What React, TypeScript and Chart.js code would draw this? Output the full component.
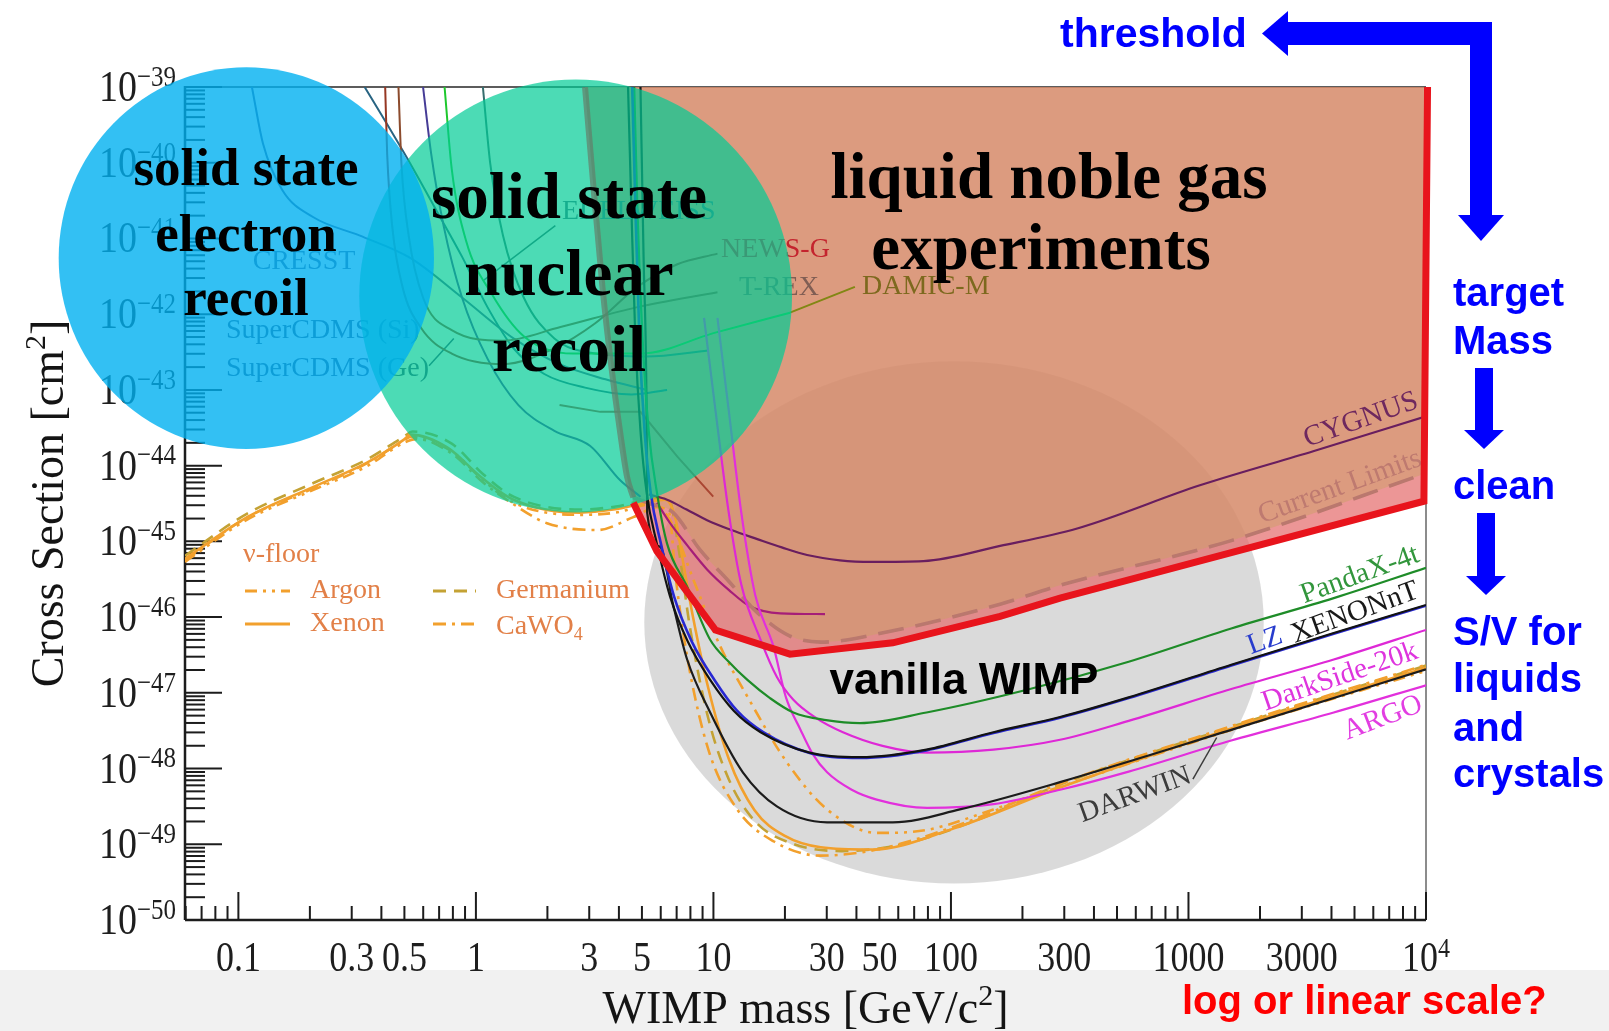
import { useEffect, useRef } from "react";
import { Chart, registerables } from "chart.js";

Chart.register(...registerables);

// Every curve point is [WIMP mass in GeV/c², log10 of the cross-section in cm²]
type Pt = [number, number];

const MASS_MIN = 0.0596;
const MASS_MAX = 1e4;
const LOG_SIGMA_MIN = -50;
const LOG_SIGMA_MAX = -39;

const massTickValues = [0.1, 0.3, 0.5, 1, 3, 5, 10, 30, 50, 100, 300, 1000, 3000, 10000];
const massTickLabels = ["0.1", "0.3", "0.5", "1", "3", "5", "10", "30", "50", "100", "300", "1000", "3000", "10^4"];
const sigmaDecades = [-50, -49, -48, -47, -46, -45, -44, -43, -42, -41, -40, -39];

// Excluded region boundary and the liquid-noble reach
const currentLimits: Pt[] = [[2.88, -39.0], [3.12, -40.29], [3.41, -41.64], [3.73, -42.73], [4.04, -43.54], [4.33, -44.15], [4.6, -44.42], [5.5, -44.51], [6.77, -44.62], [8.77, -45.11], [11.4, -45.5], [15.3, -45.94], [21.0, -46.25], [28.3, -46.33], [56.9, -46.18], [161, -45.83], [288, -45.58], [1514, -44.99], [10000, -44.1]];
const liquidNobleReach: Pt[] = [[4.6, -44.49], [5.78, -45.13], [10.2, -46.17], [21.0, -46.49], [56.9, -46.34], [161, -45.99], [288, -45.75], [1514, -45.15], [9800, -44.47], [10150, -39.0]];

// Low-mass experiments
const cresst: Pt[] = [[0.114, -39.0], [0.127, -39.75], [0.153, -40.36], [0.207, -40.72], [0.323, -40.96], [0.531, -41.26], [0.874, -41.78], [1.44, -42.32], [2.25, -42.66], [3.51, -42.86], [5.23, -43.0]];
const superCdmsSi: Pt[] = [[0.34, -39.0], [0.415, -39.45], [0.531, -40.02], [0.682, -40.63], [0.874, -41.24], [1.12, -41.91], [1.44, -42.45], [1.94, -42.79], [2.88, -42.97], [4.51, -43.06], [6.38, -43.0]];
const superCdmsGe: Pt[] = [[0.599, -39.0], [0.648, -39.88], [0.731, -40.83], [0.874, -41.78], [1.12, -42.59], [1.51, -43.2], [2.14, -43.54], [3.03, -43.74], [4.04, -44.19], [4.93, -44.41]];
const superCdmsGeTag: Pt[] = [[0.635, -42.68], [0.807, -42.32]];
const edelweiss: Pt[] = [[1.07, -39.0], [1.15, -40.02], [1.3, -40.96], [1.59, -41.78], [2.14, -42.32], [3.18, -42.52], [5.23, -42.56], [9.5, -42.48]];
const edelweissTag: Pt[] = [[1.08, -41.55], [2.16, -40.83]];
const newsG: Pt[] = [[0.415, -39.0], [0.423, -39.88], [0.444, -40.83], [0.491, -41.64], [0.587, -42.18], [0.791, -42.52], [1.3, -42.66], [2.14, -42.45], [3.18, -42.12], [4.78, -41.64], [7.05, -41.34], [10.4, -41.2]];
const tRex: Pt[] = [[0.472, -39.0], [0.486, -40.02], [0.521, -40.96], [0.599, -41.78], [0.791, -42.21], [1.3, -42.35], [2.27, -42.17], [4.74, -41.91], [10.4, -41.71]];
const damicM: Pt[] = [[0.738, -39.0], [0.791, -40.08], [0.909, -41.03], [1.17, -41.74], [1.59, -42.29], [2.56, -42.52], [4.98, -42.52], [10.0, -42.25], [21.0, -41.98]];
const damicMTag: Pt[] = [[21.0, -41.98], [39.4, -41.64]];
const lowMassKinked: Pt[] = [[2.25, -43.2], [3.34, -43.29], [4.93, -43.29], [7.05, -43.88], [9.98, -44.41]];

// Noble-liquid and gas experiments
const xenonnt: Pt[] = [[4.37, -39.0], [4.51, -40.56], [4.69, -42.32], [4.93, -43.54], [5.23, -44.35], [5.78, -45.03], [6.57, -45.73], [7.79, -46.32], [9.69, -46.83], [12.2, -47.24], [15.8, -47.52], [25.4, -47.79], [41.4, -47.85], [78.9, -47.75], [151, -47.52], [288, -47.32], [560, -47.06], [1514, -46.63], [4089, -46.21], [10000, -45.84]];
const lz: Pt[] = [[4.55, -39.0], [4.69, -40.56], [4.88, -42.32], [5.13, -43.54], [5.44, -44.35], [6.01, -45.03], [6.83, -45.73], [8.1, -46.32], [10.1, -46.83], [12.6, -47.24], [16.2, -47.52], [25.8, -47.8], [41.4, -47.86], [78.9, -47.76], [151, -47.53], [288, -47.33], [560, -47.07], [1514, -46.64], [4089, -46.22], [10000, -45.85]];
const pandax4t: Pt[] = [[4.64, -39.0], [4.78, -40.56], [5.03, -42.32], [5.34, -43.54], [5.78, -44.35], [6.38, -45.03], [7.75, -45.6], [9.69, -46.3], [11.6, -46.59], [13.9, -46.83], [17.3, -47.07], [21.7, -47.26], [29.8, -47.36], [41.4, -47.4], [78.9, -47.26], [209, -46.96], [560, -46.59], [1514, -46.15], [4089, -45.75], [10000, -45.35]];
const darwin: Pt[] = [[4.93, -39.0], [5.08, -41.24], [5.23, -43.27], [5.26, -44.62], [5.95, -45.07], [6.77, -45.84], [7.75, -46.56], [9.69, -47.26], [13.3, -48.05], [18.5, -48.5], [30.1, -48.71], [56.9, -48.71], [109, -48.54], [288, -48.18], [1514, -47.49], [10000, -46.69]];
const darwinTag: Pt[] = [[1044, -48.14], [1315, -47.59]];
const darkside20k: Pt[] = [[9.13, -42.05], [10.2, -43.27], [11.6, -44.62], [13.1, -45.57], [15.8, -46.3], [18.5, -46.79], [21.7, -47.09], [27.0, -47.33], [35.1, -47.52], [51.5, -47.7], [79.3, -47.79], [151, -47.75], [288, -47.62], [560, -47.37], [1514, -46.95], [4089, -46.56], [10000, -46.17]];
const argo: Pt[] = [[10.4, -42.05], [11.6, -43.27], [13.1, -44.62], [15.0, -45.71], [17.9, -46.39], [20.2, -47.06], [23.2, -47.48], [26.2, -47.81], [30.1, -48.05], [38.2, -48.28], [48.7, -48.41], [79.3, -48.52], [151, -48.47], [288, -48.28], [560, -48.04], [1514, -47.63], [4089, -47.26], [10000, -46.9]];
const cygnus: Pt[] = [[5.34, -44.38], [6.38, -44.45], [7.71, -44.58], [9.4, -44.72], [11.9, -44.85], [15.3, -44.97], [19.4, -45.08], [24.8, -45.18], [34.1, -45.25], [46.6, -45.27], [76.6, -45.26], [161, -45.06], [340, -44.83], [1117, -44.26], [3351, -43.81], [10000, -43.35]];
const gasShortLimit: Pt[] = [[5.78, -44.49], [6.57, -44.76], [7.79, -45.06], [9.4, -45.37], [11.6, -45.64], [14.3, -45.86], [19.1, -45.95], [29.5, -45.96]];

// Neutrino floor for several targets
const nuArgon: Pt[] = [[0.0596, -45.27], [0.108, -44.72], [0.207, -44.32], [0.347, -44.01], [0.496, -43.7], [0.559, -43.65], [0.791, -43.81], [1.07, -44.19], [1.44, -44.49], [2.74, -44.65], [3.88, -44.62], [5.5, -44.51], [6.57, -44.72], [8.22, -45.5], [10.7, -46.39], [13.9, -47.05], [20.4, -47.92], [30.1, -48.54], [48.9, -48.85], [79.3, -48.81], [151, -48.54], [288, -48.24], [1514, -47.49], [10000, -46.71]];
const nuXenon: Pt[] = [[0.0596, -45.23], [0.109, -44.68], [0.207, -44.28], [0.348, -43.96], [0.496, -43.66], [0.531, -43.59], [0.757, -43.76], [1.05, -44.15], [1.44, -44.45], [2.74, -44.62], [3.79, -44.58], [5.23, -44.49], [6.26, -44.45], [6.91, -44.69], [7.41, -45.23], [8.18, -45.98], [9.5, -46.93], [11.6, -47.87], [14.9, -48.55], [20.0, -48.89], [28.3, -49.04], [46.6, -49.07], [103, -48.79], [288, -48.25], [1514, -47.47], [10000, -46.67]];
const nuGermanium: Pt[] = [[0.0596, -45.19], [0.108, -44.64], [0.207, -44.23], [0.347, -43.92], [0.496, -43.62], [0.542, -43.55], [0.791, -43.71], [1.07, -44.11], [1.44, -44.41], [2.74, -44.58], [3.88, -44.54], [5.78, -44.43], [6.51, -44.46], [7.19, -45.16], [7.94, -46.11], [9.5, -47.33], [11.6, -48.14], [14.9, -48.69], [21.0, -48.98], [34.6, -49.09], [62.8, -49.0], [126, -48.69], [288, -48.21], [1514, -47.45], [10000, -46.64]];
const nuCaWO4: Pt[] = [[0.0596, -45.25], [0.108, -44.69], [0.207, -44.3], [0.347, -43.97], [0.496, -43.67], [0.531, -43.62], [0.791, -43.84], [1.07, -44.22], [1.44, -44.51], [1.99, -44.76], [3.25, -44.85], [4.6, -44.68], [5.78, -44.55], [6.51, -44.62], [6.91, -45.43], [7.75, -46.52], [9.5, -47.74], [12.6, -48.54], [17.9, -48.96], [28.1, -49.15], [48.7, -49.07], [109, -48.74], [288, -48.2], [1514, -47.44], [10000, -46.63]];

// Technology zones: [centre mass, centre log10 σ, half-width (mass decades), half-height (σ decades)]
const electronRecoilZone = [0.108, -41.26, 0.79, 2.52];
const nuclearRecoilZone = [2.63, -41.76, 0.911, 2.858];
const vanillaWimpZone = [103, -46.07, 1.304, 3.448];

const SERIF = '"Liberation Serif", "Times New Roman", serif';
const SANS = '"Liberation Sans", Arial, sans-serif';
const BLUE = "#0000ff";
const NU_ORANGE = "rgb(242,160,45)";
const NU_OLIVE = "rgb(196,162,52)";
const NU_TEXT = "rgb(226,128,72)";

const toXY = (pts: Pt[]) => pts.map(([m, e]) => ({ x: m, y: Math.pow(10, e) }));

function font(size: number, family: string, weight = "") {
  return [weight, `${size}px`, family].filter(Boolean).join(" ");
}

// segments: [text, 0 normal | 1 superscript | -1 subscript]
function richText(ctx: CanvasRenderingContext2D, segs: [string, number][], x: number, y: number, size: number, family: string, align: string, sy = 1, weight = "") {
  const small = Math.round(size * 0.66);
  let total = 0;
  const widths = segs.map(([t, k]) => {
    ctx.font = font(k === 0 ? size : small, family, weight);
    const w = ctx.measureText(t).width;
    total += w;
    return w;
  });
  let cur = align === "center" ? x - total / 2 : align === "right" ? x - total : x;
  segs.forEach(([t, k], i) => {
    ctx.font = font(k === 0 ? size : small, family, weight);
    const dy = k === 1 ? -size * 0.4 : k === -1 ? size * 0.2 : 0;
    ctx.save();
    ctx.translate(cur, y + dy);
    ctx.scale(1, sy);
    ctx.textAlign = "left";
    ctx.fillText(t, 0, 0);
    ctx.restore();
    cur += widths[i];
  });
}

function drawZone(chart: any, z: number[], color: string) {
  const [m, s, dm, ds] = z;
  const xs = chart.scales.x;
  const ys = chart.scales.y;
  const cx = xs.getPixelForValue(m);
  const cy = ys.getPixelForValue(Math.pow(10, s));
  const rx = xs.getPixelForValue(Math.pow(10, Math.log10(m) + dm)) - cx;
  const ry = cy - ys.getPixelForValue(Math.pow(10, s + ds));
  const ctx = chart.ctx;
  ctx.save();
  ctx.beginPath();
  ctx.ellipse(cx, cy, rx, ry, 0, 0, Math.PI * 2);
  ctx.fillStyle = color;
  ctx.fill();
  ctx.restore();
}

function seg(ctx: CanvasRenderingContext2D, x1: number, y1: number, x2: number, y2: number) {
  ctx.beginPath();
  ctx.moveTo(x1, y1);
  ctx.lineTo(x2, y2);
  ctx.stroke();
}

const flatLabels = [
  { t: "CRESST", x: 304, y: 262, c: "rgb(75,95,140)", align: "center" },
  { t: "SuperCDMS (Si)", x: 226, y: 331, c: "rgb(60,80,118)", align: "left" },
  { t: "SuperCDMS (Ge)", x: 226, y: 369, c: "rgb(60,80,118)", align: "left" },
  { t: "EDELWEISS", x: 562, y: 212, c: "rgb(70,105,125)", align: "left" },
  { t: "NEWS-G", x: 721, y: 250, c: "rgb(196,36,46)", align: "left" },
  { t: "T-REX", x: 739, y: 288, c: "rgb(128,94,84)", align: "left" },
  { t: "DAMIC-M", x: 862, y: 287, c: "rgb(125,105,30)", align: "left" },
];

const slantLabels = [
  { t: "CYGNUS", x: 1361, y: 420, a: -19.5, c: "rgb(110,40,95)" },
  { t: "Current Limits", x: 1340, y: 487, a: -20, c: "rgb(190,122,112)" },
  { t: "PandaX-4t", x: 1360, y: 575, a: -20, c: "rgb(50,150,60)" },
  { t: "LZ", x: 1265, y: 641, a: -20, c: "rgb(40,60,205)" },
  { t: "XENONnT", x: 1355, y: 613, a: -20, c: "rgb(25,25,25)" },
  { t: "DarkSide-20k", x: 1340, y: 677, a: -19, c: "rgb(222,52,222)" },
  { t: "ARGO", x: 1383, y: 718, a: -21, c: "rgb(226,62,226)" },
  { t: "DARWIN", x: 1135, y: 795, a: -20, c: "rgb(60,60,60)" },
];

function drawExperimentLabels(ctx: CanvasRenderingContext2D) {
  ctx.save();
  ctx.textBaseline = "middle";
  ctx.font = font(28, SERIF);
  for (const l of flatLabels) {
    ctx.fillStyle = l.c;
    ctx.textAlign = l.align as CanvasTextAlign;
    ctx.fillText(l.t, l.x, l.y);
  }
  ctx.font = font(29, SERIF);
  ctx.textAlign = "center";
  for (const l of slantLabels) {
    ctx.save();
    ctx.translate(l.x, l.y);
    ctx.rotate((l.a * Math.PI) / 180);
    ctx.fillStyle = l.c;
    ctx.fillText(l.t, 0, 0);
    ctx.restore();
  }
  ctx.restore();
}

function drawNuLegend(ctx: CanvasRenderingContext2D) {
  ctx.save();
  ctx.fillStyle = NU_TEXT;
  ctx.textBaseline = "middle";
  ctx.textAlign = "left";
  ctx.font = font(28, SERIF);
  ctx.fillText("\u03bd-floor", 243, 555);
  ctx.fillText("Argon", 310, 591);
  ctx.fillText("Xenon", 310, 624);
  ctx.fillText("Germanium", 496, 591);
  ctx.textBaseline = "alphabetic";
  richText(ctx, [["CaWO", 0], ["4", -1]], 496, 634, 28, SERIF, "left");
  ctx.lineWidth = 3;
  const sample = (x1: number, x2: number, y: number, color: string, dash: number[]) => {
    ctx.strokeStyle = color;
    ctx.setLineDash(dash);
    seg(ctx, x1, y, x2, y);
  };
  sample(245, 290, 591, NU_ORANGE, [12, 6, 3, 6, 3, 6]);
  sample(245, 290, 624, NU_ORANGE, []);
  sample(433, 476, 591, NU_OLIVE, [13, 8]);
  sample(433, 476, 624, NU_ORANGE, [13, 6, 3, 6]);
  ctx.restore();
}

function drawArrowDown(ctx: CanvasRenderingContext2D, cx: number, y1: number, y2: number, bar: number, half: number, tip: number) {
  ctx.fillRect(cx - bar / 2, y1, bar, y2 - y1);
  ctx.beginPath();
  ctx.moveTo(cx - half, y2);
  ctx.lineTo(cx + half, y2);
  ctx.lineTo(cx, y2 + tip);
  ctx.closePath();
  ctx.fill();
}

const chartDecor = {
  id: "chartDecor",
  beforeDraw(chart: any) {
    const { ctx, width, height } = chart;
    ctx.save();
    ctx.fillStyle = "#f1f1f1";
    ctx.fillRect(0, 970, width, height - 970);
    ctx.restore();
  },
  beforeDatasetsDraw(chart: any) {
    const { ctx, chartArea: a } = chart;
    const xs = chart.scales.x;
    const ys = chart.scales.y;
    drawZone(chart, vanillaWimpZone, "rgba(0,0,0,0.145)");

    ctx.save();
    ctx.lineCap = "butt";
    ctx.strokeStyle = "#5c5c5c";
    ctx.lineWidth = 2;
    seg(ctx, a.left, a.top, a.right, a.top);
    ctx.strokeStyle = "#8c8c8c";
    seg(ctx, a.right, a.top, a.right, a.bottom);
    ctx.strokeStyle = "#1c1c1c";
    ctx.lineWidth = 2.5;
    seg(ctx, a.left, a.top - 1, a.left, a.bottom);
    seg(ctx, a.left, a.bottom, a.right, a.bottom);

    // inward ticks
    ctx.lineWidth = 2;
    for (const e of sigmaDecades) {
      const y = ys.getPixelForValue(Math.pow(10, e));
      seg(ctx, a.left, y, a.left + 37, y);
      if (e < LOG_SIGMA_MAX) {
        for (let k = 2; k <= 9; k++) {
          const yk = ys.getPixelForValue(k * Math.pow(10, e));
          seg(ctx, a.left, yk, a.left + 20, yk);
        }
      }
    }
    for (let d = -2; d <= 4; d++) {
      for (let k = 1; k <= 9; k++) {
        const v = k * Math.pow(10, d);
        if (v < MASS_MIN || v > MASS_MAX * 1.0001) continue;
        const x = xs.getPixelForValue(v);
        seg(ctx, x, a.bottom, x, a.bottom - (k === 1 ? 28 : 14));
      }
    }

    // tick labels
    ctx.fillStyle = "#1e1e1e";
    ctx.textBaseline = "alphabetic";
    for (const e of sigmaDecades) {
      const y = ys.getPixelForValue(Math.pow(10, e));
      richText(ctx, [["10", 0], ["\u2212" + Math.abs(e), 1]], 99, y + 14, 38, SERIF, "left", 1.18);
    }
    massTickValues.forEach((v, i) => {
      const x = xs.getPixelForValue(v);
      const lab = massTickLabels[i];
      if (lab.includes("^")) {
        const [b, p] = lab.split("^");
        richText(ctx, [[b, 0], [p, 1]], x, 971, 36, SERIF, "center", 1.15);
      } else {
        richText(ctx, [[lab, 0]], x, 971, 36, SERIF, "center", 1.15);
      }
    });

    // axis titles
    ctx.fillStyle = "#141414";
    richText(ctx, [["WIMP mass [GeV/c", 0], ["2", 1], ["]", 0]], (a.left + a.right) / 2, 1023, 46, SERIF, "center");
    ctx.save();
    ctx.translate(63, (a.top + a.bottom) / 2);
    ctx.rotate(-Math.PI / 2);
    richText(ctx, [["Cross Section [cm", 0], ["2", 1], ["]", 0]], 0, 0, 46, SERIF, "center");
    ctx.restore();
    ctx.restore();
  },
  beforeDatasetDraw(chart: any, args: any) {
    const d = chart.data.datasets[args.index];
    if (!d || !d.zonesBelow) return;
    const ctx = chart.ctx;
    drawExperimentLabels(ctx);
    drawNuLegend(ctx);
    drawZone(chart, nuclearRecoilZone, "rgba(0,204,150,0.7)");
    drawZone(chart, electronRecoilZone, "rgba(0,176,240,0.8)");
  },
  afterDatasetsDraw(chart: any) {
    const ctx = chart.ctx;
    ctx.save();
    ctx.fillStyle = "#000";
    ctx.textAlign = "center";
    ctx.textBaseline = "alphabetic";
    ctx.font = font(53, SERIF, "bold");
    ctx.fillText("solid state", 246, 185);
    ctx.fillText("electron", 246, 251);
    ctx.fillText("recoil", 246, 315);
    ctx.font = font(65, SERIF, "bold");
    ctx.fillText("solid state", 569, 218);
    ctx.fillText("nuclear", 569, 295);
    ctx.fillText("recoil", 569, 371);
    ctx.fillText("liquid noble gas", 1049, 198);
    ctx.fillText("experiments", 1041, 269);
    ctx.font = font(44, SANS, "bold");
    ctx.fillText("vanilla WIMP", 964, 694);

    // design-driver annotations
    ctx.textAlign = "left";
    ctx.fillStyle = BLUE;
    ctx.font = font(41, SANS, "bold");
    ctx.fillText("threshold", 1060, 47);
    ctx.font = font(40, SANS, "bold");
    ctx.fillText("target", 1453, 306);
    ctx.fillText("Mass", 1453, 354);
    ctx.fillText("clean", 1453, 499);
    ctx.fillText("S/V for", 1453, 645);
    ctx.fillText("liquids", 1453, 692);
    ctx.fillText("and", 1453, 741);
    ctx.fillText("crystals", 1453, 787);

    ctx.fillRect(1286, 22, 1492 - 1286, 23);
    ctx.beginPath();
    ctx.moveTo(1262, 33.5);
    ctx.lineTo(1288, 11);
    ctx.lineTo(1288, 56);
    ctx.closePath();
    ctx.fill();
    drawArrowDown(ctx, 1481, 22, 215, 22, 23, 26);
    drawArrowDown(ctx, 1484, 368, 430, 18, 20, 19);
    drawArrowDown(ctx, 1486, 513, 576, 18, 20, 19);

    ctx.fillStyle = "#ff0000";
    ctx.font = font(40, SANS, "bold");
    ctx.fillText("log or linear scale?", 1182, 1014);
    ctx.restore();
  },
};

function line(pts: Pt[], color: string, width: number, order: number, extra: any = {}) {
  return {
    data: toXY(pts),
    borderColor: color,
    borderWidth: width,
    order,
    pointRadius: 0,
    pointHoverRadius: 0,
    fill: false,
    cubicInterpolationMode: "monotone",
    ...extra,
  };
}

export default function App() {
  const canvasRef = useRef<HTMLCanvasElement | null>(null);

  useEffect(() => {
    const canvas = canvasRef.current;
    if (!canvas) return;
    const clear = "rgba(0,0,0,0)";
    const straight = { tension: 0, cubicInterpolationMode: "default" };
    const datasets: any[] = [
      line([...currentLimits.slice(0, 6), ...liquidNobleReach.slice(0, -1)], clear, 1, 100, {
        fill: "end", backgroundColor: "rgba(228,105,105,0.7)", ...straight,
      }),
      line(currentLimits, clear, 1, 99, { fill: "end", backgroundColor: "rgba(204,160,104,0.5)" }),

      line(nuGermanium, NU_OLIVE, 2.6, 90, { borderDash: [13, 8] }),
      line(nuArgon, NU_ORANGE, 2.6, 89, { borderDash: [12, 6, 3, 6, 3, 6] }),
      line(nuCaWO4, NU_ORANGE, 2.6, 88, { borderDash: [13, 6, 3, 6] }),
      line(nuXenon, NU_ORANGE, 2.6, 87),

      line(cresst, "rgb(70,90,140)", 2, 80),
      line(superCdmsSi, "rgb(40,100,130)", 2, 79),
      line(superCdmsGe, "rgb(70,60,150)", 2, 78),
      line(superCdmsGeTag, "rgb(50,70,110)", 1.5, 77, straight),
      line(edelweiss, "rgb(55,110,110)", 2, 76),
      line(edelweissTag, "rgb(55,90,100)", 1.5, 75, straight),
      line(newsG, "rgb(150,55,35)", 2, 74),
      line(tRex, "rgb(140,75,45)", 2, 73),
      line(damicM, "rgb(30,200,45)", 2, 72),
      line(damicMTag, "rgb(130,135,20)", 2, 71, straight),
      line(lowMassKinked, "rgb(170,70,50)", 2, 70, straight),

      line(gasShortLimit, "rgb(165,30,120)", 2.2, 60),
      line(cygnus, "rgb(105,30,95)", 2.2, 59),
      line(currentLimits.slice(6), "rgb(186,120,110)", 3.6, 58, { borderDash: [26, 12] }),
      line(argo, "rgb(226,48,220)", 2.2, 57),
      line(darkside20k, "rgb(222,40,214)", 2.2, 56),
      line(darwin, "rgb(28,28,28)", 2.2, 55),
      line(darwinTag, "rgb(60,60,60)", 1.5, 54, straight),
      line(pandax4t, "rgb(30,140,40)", 2.2, 53),
      line(lz, "rgb(40,40,210)", 2.6, 52),
      line(xenonnt, "rgb(18,18,18)", 2.2, 51),

      line(currentLimits.slice(0, 7), "rgba(100,125,105,0.7)", 6, 2, { zonesBelow: true }),
      line(liquidNobleReach, "rgb(232,20,28)", 7, 1, { ...straight, clip: 8, borderJoinStyle: "miter" }),
    ];

    const chart = new Chart(canvas, {
      type: "line",
      data: { datasets },
      options: {
        animation: false,
        responsive: false,
        maintainAspectRatio: false,
        devicePixelRatio: 1,
        events: [],
        layout: { padding: { left: 185, top: 87, right: 183, bottom: 111 } },
        scales: {
          x: { type: "logarithmic", min: MASS_MIN, max: MASS_MAX, display: false },
          y: { type: "logarithmic", min: Math.pow(10, LOG_SIGMA_MIN), max: Math.pow(10, LOG_SIGMA_MAX), display: false },
        },
        plugins: { legend: { display: false }, tooltip: { enabled: false } },
      } as any,
      plugins: [chartDecor as any],
    });
    return () => chart.destroy();
  }, []);

  return (
    <div style={{ position: "fixed", left: 0, top: 0, width: 1609, height: 1031, background: "#fff" }}>
      <canvas ref={canvasRef} width={1609} height={1031} style={{ display: "block" }} />
    </div>
  );
}
